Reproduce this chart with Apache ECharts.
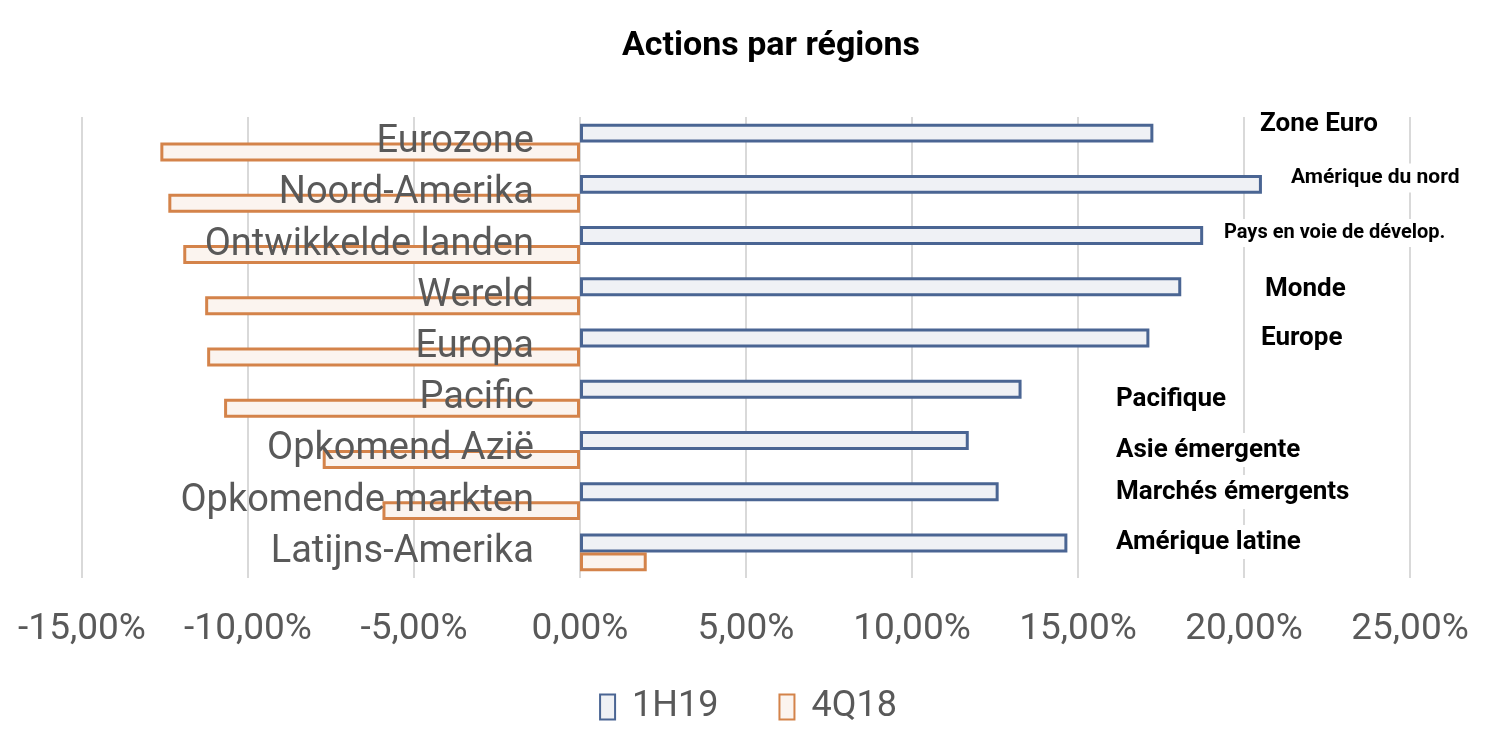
<!DOCTYPE html>
<html>
<head>
<meta charset="utf-8">
<script src="https://cdn.jsdelivr.net/npm/echarts@6/dist/echarts.min.js"></script>
<style>
html,body{margin:0;padding:0;background:#fff;}
#chart{width:1496px;height:745px;}
</style>
</head>
<body>
<div id="chart"></div>
<script>
const titleText = 'Actions par régions';
const categories = ['Eurozone','Noord-Amerika','Ontwikkelde landen','Wereld','Europa','Pacific','Opkomend Azië','Opkomende markten','Latijns-Amerika'];
const seriesNames = ['1H19','4Q18'];
const values1H19 = [17.27, 20.54, 18.77, 18.11, 17.15, 13.30, 11.71, 12.61, 14.68];
const values4Q18 = [-12.64, -12.40, -11.95, -11.29, -11.23, -10.72, -7.75, -5.95, 2.01];
const xTicks = {min: -15, max: 25, step: 5};
const frenchLabels = ['Zone Euro','Amérique du nord','Pays en voie de dévelop.','Monde','Europe','Pacifique','Asie émergente','Marchés émergents','Amérique latine'];

// annotation placement (layout only)
const annoLayout = [
  {x:1256, y:124, size:26},
  {x:1287, y:178, size:21},
  {x:1220, y:233, size:20},
  {x:1261, y:289, size:26},
  {x:1257, y:338, size:26},
  {x:1112, y:399, size:26},
  {x:1112, y:450, size:26},
  {x:1112, y:492, size:26},
  {x:1112, y:542, size:26}
];

const chart = echarts.init(document.getElementById('chart'));
const fmt = v => v.toFixed(2).replace('.', ',') + '%';

const option = {
  backgroundColor: '#ffffff',
  animation: false,
  title: {
    text: titleText,
    left: 617,
    top: 24,
    textStyle: {fontFamily: 'Roboto', fontWeight: 'bold', fontSize: 34, color: '#000'}
  },
  legend: {
    data: seriesNames,
    bottom: 15,
    left: 'center',
    icon: 'rect',
    itemWidth: 15,
    itemHeight: 25,
    itemGap: 60,
    textStyle: {fontFamily: 'Roboto', fontSize: 36, color: '#595959', padding: [0,0,0,12]}
  },
  grid: {left: 82, right: 86, top: 117, bottom: 167, containLabel: false, outerBoundsMode: 'none'},
  xAxis: {
    type: 'value',
    min: xTicks.min, max: xTicks.max, interval: xTicks.step,
    axisLine: {show: false},
    axisTick: {show: false},
    splitLine: {show: true, lineStyle: {color: '#d9d9d9', width: 2}},
    axisLabel: {
      formatter: fmt,
      fontFamily: 'Roboto', fontSize: 37, color: '#595959', margin: 33
    }
  },
  yAxis: {
    type: 'category',
    inverse: true,
    data: categories,
    z: 3,
    offset: -497,
    axisLine: {show: false, onZero: false},
    axisTick: {show: false},
    splitLine: {show: false},
    axisLabel: {fontFamily: 'Roboto', fontSize: 38, color: '#595959', margin: 45}
  },
  series: [
    {
      name: seriesNames[0],
      type: 'bar',
      data: values1H19,
      barCategoryGap: '26%',
      barGap: '0%',
      itemStyle: {color: '#eff1f5', borderColor: '#4a6593', borderWidth: 3}
    },
    {
      name: seriesNames[1],
      type: 'bar',
      data: values4Q18,
      barCategoryGap: '26%',
      barGap: '0%',
      itemStyle: {color: '#fbf4ef', borderColor: '#d4834a', borderWidth: 3}
    }
  ],
  graphic: frenchLabels.map((t, i) => ({
    type: 'text',
    z: 100,
    style: {
      text: t,
      x: annoLayout[i].x,
      y: annoLayout[i].y,
      verticalAlign: 'middle',
      align: 'left',
      font: 'bold ' + annoLayout[i].size + 'px Roboto',
      fill: '#000',
      backgroundColor: '#fff',
      padding: [4, 4, 4, 4]
    }
  }))
};
chart.setOption(option);
</script>
</body>
</html>
